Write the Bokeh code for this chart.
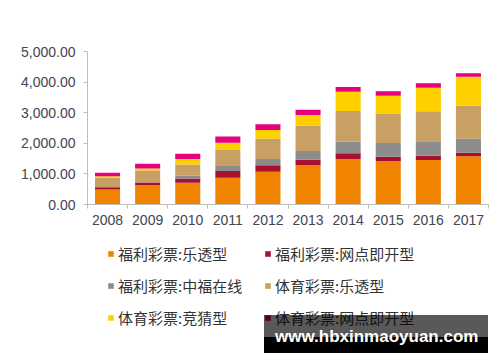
from bokeh.plotting import figure
from bokeh.layouts import column
from bokeh.models import (ColumnDataSource, Range1d, FixedTicker, NumeralTickFormatter,
                          Legend, LegendItem)
from bokeh.embed import file_html
from bokeh.resources import INLINE

years = ["2008", "2009", "2010", "2011", "2012", "2013", "2014", "2015", "2016", "2017"]
series_names = ["福利彩票:乐透型", "福利彩票:网点即开型", "福利彩票:中福在线",
                "体育彩票:乐透型", "体育彩票:竞猜型", "体育彩票:网点即开型"]
welfare_lotto = [490, 633, 709, 875, 1073, 1291, 1487, 1422, 1454, 1574]
welfare_instant = [75, 87, 142, 218, 207, 174, 185, 142, 142, 120]
welfare_vlt = [10, 10, 98, 164, 207, 283, 387, 447, 468, 458]
sports_lotto = [297, 380, 360, 523, 664, 828, 996, 948, 980, 1078]
sports_quiz = [55, 65, 174, 235, 283, 349, 632, 599, 773, 948]
sports_instant = [109, 153, 174, 207, 185, 174, 153, 142, 142, 109]
colors = ["#F08300", "#A8102F", "#8C8C8C", "#C9A063", "#FFD000", "#E6007E"]
y_ticks = [0, 1000, 2000, 3000, 4000, 5000]
watermark = "www.hbxinmaoyuan.com"

keys = ["s0", "s1", "s2", "s3", "s4", "s5"]
data = dict(x=[i + 0.5 for i in range(len(years))])
for k, vals in zip(keys, [welfare_lotto, welfare_instant, welfare_vlt,
                          sports_lotto, sports_quiz, sports_instant]):
    data[k] = vals
src = ColumnDataSource(data)

# ---- chart ----
p = figure(width=500, height=236, output_backend="svg", toolbar_location=None,
           x_range=Range1d(0, len(years)), y_range=Range1d(0, 5000),
           min_border_left=87, min_border_right=12, min_border_top=51, min_border_bottom=32)
p.outline_line_color = None
p.xgrid.visible = False
p.ygrid.visible = False

p.vbar_stack(keys, x="x", width=0.625, source=src, color=colors, line_color=None)

p.xaxis.ticker = FixedTicker(ticks=[i + 0.5 for i in range(len(years))],
                             minor_ticks=list(range(len(years) + 1)))
p.xaxis.major_label_overrides = {i + 0.5: y for i, y in enumerate(years)}
p.xaxis.major_tick_out = 0
p.xaxis.major_tick_in = 0
p.xaxis.minor_tick_out = 4
p.xaxis.minor_tick_in = 0
p.xaxis.major_label_standoff = 6

p.yaxis.ticker = FixedTicker(ticks=y_ticks)
p.yaxis.formatter = NumeralTickFormatter(format="0,0.00")
p.yaxis.major_tick_out = 4
p.yaxis.major_tick_in = 0
p.yaxis.minor_tick_out = 0
p.yaxis.minor_tick_in = 0
p.yaxis.major_label_standoff = 8

for ax in (p.xaxis, p.yaxis):
    ax.axis_line_color = "#BFBFBF"
    ax.major_tick_line_color = "#BFBFBF"
    ax.minor_tick_line_color = "#BFBFBF"
    ax.major_label_text_font = "Liberation Sans"
    ax.major_label_text_font_size = "14px"
    ax.major_label_text_color = "#404654"

# ---- legend panel (its frame is aligned with the chart frame by the column) ----
q = figure(width=500, height=126, output_backend="svg", toolbar_location=None,
           x_range=Range1d(0, len(years)), y_range=Range1d(0, 1),
           x_axis_location=None, y_axis_location=None,
           min_border_left=0, min_border_right=0, min_border_top=0, min_border_bottom=0)
q.outline_line_color = None
q.xgrid.visible = False
q.ygrid.visible = False

# legend swatch renderers (hidden; only their legend glyphs are shown)
swatches = [q.vbar(x="x", top=k, width=0.625, source=src, color=c, line_color=None,
                   visible=False)
            for k, c in zip(keys, colors)]
ghost = q.vbar(x="x", top=keys[0], width=0.625, source=src, fill_alpha=0, line_alpha=0,
               visible=False)

def make_legend(idx, x):
    items = [LegendItem(label=series_names[i], renderers=[swatches[i]]) for i in idx]
    lg = Legend(items=items, location=(x, 34), orientation="vertical",
                padding=0, margin=0, spacing=11, label_height=20,
                glyph_width=7, glyph_height=7, label_standoff=4,
                label_text_font="Noto Sans CJK SC", label_text_font_size="15px",
                label_text_color="#333333",
                border_line_color=None, background_fill_alpha=0)
    q.add_layout(lg, "center")

make_legend([0, 2, 4], 20)
make_legend([1, 3, 5], 177)

def box(height, alpha):
    lg = Legend(items=[LegendItem(label=" ", renderers=[ghost])], location=(177, 9),
                padding=0, margin=0, glyph_width=1, glyph_height=1, label_standoff=0,
                label_height=height, label_width=226, label_text_font_size="6px",
                border_line_color=None, background_fill_color="black",
                background_fill_alpha=alpha)
    q.add_layout(lg, "center")

box(16, 1.0)
box(38, 0.65)

wm = Legend(items=[LegendItem(label=watermark, renderers=[ghost])], location=(187, 15),
            padding=0, margin=0, glyph_width=1, glyph_height=1, label_standoff=0,
            label_height=20, label_width=208,
            label_text_font="Liberation Sans", label_text_font_style="bold",
            label_text_font_size="17px", label_text_color="white",
            border_line_color=None, background_fill_alpha=0)
q.add_layout(wm, "center")

layout = column(p, q, spacing=0)
open("out.html", "w").write(file_html(layout, INLINE))
